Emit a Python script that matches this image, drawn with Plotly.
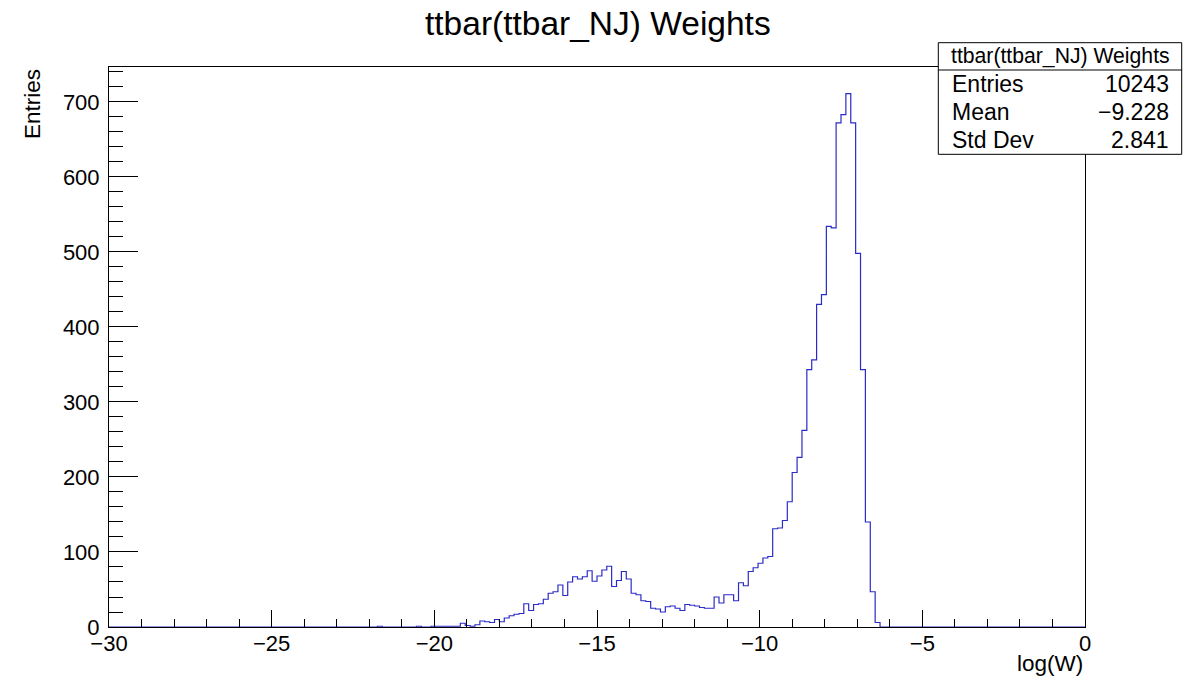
import numpy as np
import plotly.graph_objects as go

# Histogram definition (ROOT TH1: 200 bins from -30 to 0)
x_min = -30.0
x_max = 0.0
n_bins = 200

# bin index -> counts (non-empty bins)
filled_bins = [55, 63, 66, 67, 68, 69, 70, 71,
               72, 73, 74, 75, 76, 77, 78, 79, 80, 81, 82, 83, 84,
               85, 86, 87, 88, 89, 90, 91, 92, 93, 94,
               95, 96, 97, 98, 99, 100, 101, 102, 103, 104,
               105, 106, 107, 108, 109, 110, 111, 112, 113, 114,
               115, 116, 117, 118, 119, 120, 121, 122, 123, 124,
               125, 126, 127, 128, 129, 130, 131, 132, 133, 134,
               135, 136, 137, 138, 139, 140, 141, 142, 143, 144,
               145, 146, 147, 148, 149, 150, 151, 152, 153, 154,
               155, 156, 157]
filled_counts = [1, 1, 1, 1, 1, 1, 1, 1,
                 5, 2, 1, 3, 8, 7, 6, 10, 7, 12, 15, 17, 18,
                 31, 22, 30, 31, 37, 45, 47, 56, 42, 60,
                 67, 64, 67, 75, 61, 68, 76, 81, 54, 62,
                 74, 64, 45, 43, 35, 34, 25, 24, 20, 27,
                 28, 25, 22, 30, 29, 28, 26, 25, 25, 40,
                 32, 43, 43, 35, 59, 55, 74, 79, 85, 92,
                 94, 131, 132, 142, 167, 206, 226, 262, 343, 356,
                 430, 443, 534, 532, 672, 683, 711, 672, 498, 343,
                 140, 47, 6]

hist_title = "ttbar(ttbar_NJ) Weights"
x_title = "log(W)"
y_title = "Entries"
stats_labels = ["Entries", "Mean", "Std Dev"]
stats_values = ["10243", "\u22129.228", "2.841"]

counts = np.zeros(n_bins)
counts[filled_bins] = filled_counts
edges = np.linspace(x_min, x_max, n_bins + 1)
y_max = 1.05 * counts.max()

# frame in pixels
W, H = 1183, 681
L, R, T, B = 109, 1085, 67, 627
pw, ph = R - L, B - T


def px(xp):
    return (xp - L) / pw


def py(yp):
    return (B - yp) / ph


FONT = "Liberation Sans, Arial, sans-serif"
line_col = "#2b2bc8"

fig = go.Figure()
fig.add_trace(go.Scatter(
    x=edges,
    y=np.append(counts, counts[-1]),
    mode="lines",
    line=dict(shape="hv", color=line_col, width=1.2),
    hoverinfo="skip",
    showlegend=False,
))

fig.update_layout(
    width=W, height=H,
    margin=dict(l=L, r=W - R, t=T, b=H - B, pad=0),
    paper_bgcolor="white",
    plot_bgcolor="white",
    showlegend=False,
    font=dict(family=FONT, color="black", size=22),
)

fig.update_xaxes(
    range=[x_min, x_max],
    showgrid=False, zeroline=False,
    showline=True, linecolor="black", linewidth=1, mirror=True,
    ticks="inside", ticklen=17, tickwidth=1, tickcolor="black",
    dtick=5, tick0=0,
    minor=dict(ticks="inside", ticklen=8, dtick=1, tick0=0, tickcolor="black", showgrid=False),
    tickfont=dict(size=22, family=FONT),
    ticklabelstandoff=-3,
)
fig.update_yaxes(
    range=[0, y_max],
    showgrid=False, zeroline=False,
    showline=True, linecolor="black", linewidth=1, mirror=True,
    ticks="inside", ticklen=29, tickwidth=1, tickcolor="black",
    dtick=100, tick0=0,
    minor=dict(ticks="inside", ticklen=14, dtick=20, tick0=0, tickcolor="black", showgrid=False),
    tickfont=dict(size=22, family=FONT),
    ticklabelstandoff=4,
)

annotations = []
# main title
annotations.append(dict(
    text=hist_title, x=(597.5 - L) / pw, y=py(23), xref="paper", yref="paper",
    xanchor="center", yanchor="middle", showarrow=False,
    font=dict(size=33.5, family=FONT, color="black"),
))
# axis titles
annotations.append(dict(
    text=x_title, x=1.0, y=py(663), xref="paper", yref="paper",
    xanchor="right", yanchor="middle", showarrow=False,
    font=dict(size=22.5, family=FONT, color="black"),
))
annotations.append(dict(
    text=y_title, x=px(32), y=1.0, xref="paper", yref="paper",
    xanchor="center", yanchor="top", textangle=-90, showarrow=False,
    font=dict(size=22.5, family=FONT, color="black"),
))

# stats box
bx0, bx1, by0, by1, bsep = 938.3, 1181.7, 42.7, 154.3, 70.0
shapes = [
    dict(type="rect", xref="paper", yref="paper",
         x0=px(bx0), x1=px(bx1), y0=py(by1), y1=py(by0),
         line=dict(color="black", width=1), fillcolor="white", layer="above"),
    dict(type="line", xref="paper", yref="paper",
         x0=px(bx0), x1=px(bx1), y0=py(bsep), y1=py(bsep),
         line=dict(color="black", width=1), layer="above"),
]
annotations.append(dict(
    text=hist_title, x=px((bx0 + bx1) / 2), y=py((by0 + bsep) / 2),
    xref="paper", yref="paper", xanchor="center", yanchor="middle",
    showarrow=False, font=dict(size=21.2, family=FONT, color="black"),
))
row_h = (by1 - bsep) / 3
for i, (lab, val) in enumerate(zip(stats_labels, stats_values)):
    yc = bsep + row_h * (i + 0.5)
    annotations.append(dict(
        text=lab, x=px(bx0 + 12), y=py(yc), xref="paper", yref="paper",
        xanchor="left", yanchor="middle", showarrow=False,
        font=dict(size=23, family=FONT, color="black"),
    ))
    annotations.append(dict(
        text=val, x=px(bx1 - 11), y=py(yc), xref="paper", yref="paper",
        xanchor="right", yanchor="middle", showarrow=False,
        font=dict(size=23, family=FONT, color="black"),
    ))

fig.update_layout(annotations=annotations, shapes=shapes)
fig.write_html(
    "out.html",
    config={"displayModeBar": False},
    post_script="document.body.style.margin='0';document.body.style.overflow='hidden';",
)
